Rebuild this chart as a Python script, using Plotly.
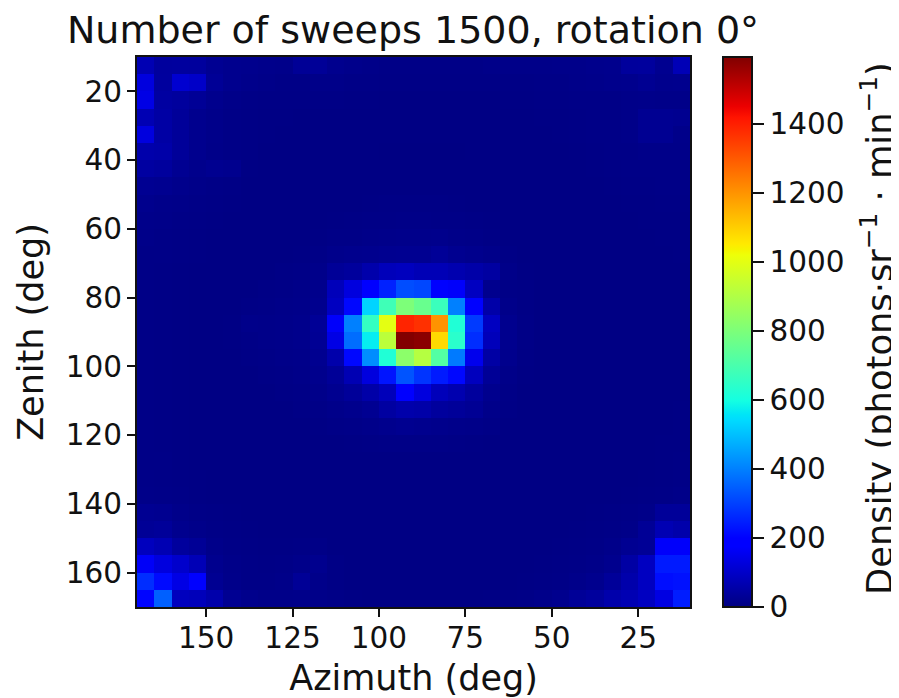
import plotly.graph_objects as go

azimuth = [167.5, 162.5, 157.5, 152.5, 147.5, 142.5, 137.5, 132.5, 127.5, 122.5, 117.5, 112.5, 107.5, 102.5, 97.5, 92.5,
           87.5, 82.5, 77.5, 72.5, 67.5, 62.5, 57.5, 52.5, 47.5, 42.5, 37.5, 32.5, 27.5, 22.5, 17.5, 12.5]
zenith = [12.5, 17.5, 22.5, 27.5, 32.5, 37.5, 42.5, 47.5, 52.5, 57.5, 62.5, 67.5, 72.5, 77.5, 82.5, 87.5,
          92.5, 97.5, 102.5, 107.5, 112.5, 117.5, 122.5, 127.5, 132.5, 137.5, 142.5, 147.5, 152.5, 157.5, 162.5, 167.5]

density = [
    [70, 40, 42, 40, 25, 20, 18, 15, 14, 30, 32, 20, 15, 12, 10, 10, 10, 10, 10, 10, 12, 12, 12, 12, 14, 14, 16, 18, 38, 40, 22, 75],
    [130, 42, 110, 100, 30, 20, 15, 12, 10, 10, 12, 12, 10, 10, 8, 8, 8, 8, 8, 8, 8, 8, 8, 10, 10, 12, 14, 16, 18, 25, 18, 20],
    [140, 45, 40, 30, 18, 12, 10, 8, 8, 8, 8, 8, 7, 7, 6, 6, 6, 6, 6, 6, 6, 7, 7, 8, 8, 10, 10, 10, 12, 14, 12, 12],
    [70, 50, 35, 20, 14, 10, 8, 7, 7, 6, 6, 6, 6, 6, 5, 5, 5, 5, 5, 5, 6, 6, 6, 7, 7, 8, 9, 10, 12, 25, 25, 22],
    [130, 50, 35, 20, 14, 10, 8, 7, 6, 6, 6, 5, 5, 5, 5, 5, 5, 5, 5, 5, 5, 6, 6, 6, 7, 8, 9, 10, 12, 25, 25, 14],
    [60, 55, 35, 20, 13, 10, 8, 6, 6, 5, 5, 5, 5, 5, 4, 4, 4, 4, 4, 5, 5, 5, 5, 6, 6, 7, 8, 9, 10, 12, 13, 12],
    [45, 40, 25, 16, 22, 20, 7, 6, 5, 5, 5, 5, 5, 5, 5, 5, 5, 5, 5, 5, 5, 5, 5, 5, 6, 6, 7, 8, 9, 10, 10, 10],
    [25, 22, 16, 12, 10, 8, 6, 5, 5, 5, 5, 5, 5, 6, 6, 6, 6, 6, 6, 5, 5, 5, 5, 5, 5, 6, 6, 7, 8, 8, 9, 9],
    [18, 14, 12, 10, 8, 7, 6, 5, 5, 5, 5, 6, 6, 7, 8, 8, 8, 8, 7, 6, 6, 5, 5, 5, 5, 5, 6, 6, 7, 7, 8, 8],
    [14, 12, 10, 8, 7, 6, 5, 5, 5, 5, 6, 7, 8, 9, 10, 11, 11, 10, 9, 8, 7, 6, 5, 5, 5, 5, 5, 6, 6, 7, 7, 7],
    [12, 10, 8, 7, 6, 6, 5, 5, 5, 6, 7, 9, 10, 12, 14, 15, 15, 16, 13, 11, 8, 6, 5, 5, 5, 5, 5, 5, 6, 6, 7, 7],
    [10, 9, 8, 7, 6, 5, 5, 5, 6, 7, 10, 15, 18, 20, 22, 24, 24, 32, 22, 18, 14, 8, 6, 5, 5, 5, 5, 5, 5, 6, 6, 7],
    [10, 8, 7, 6, 6, 5, 5, 6, 8, 10, 14, 32, 38, 60, 80, 85, 75, 75, 65, 55, 45, 12, 7, 5, 5, 5, 5, 5, 5, 6, 6, 6],
    [9, 8, 7, 6, 5, 5, 6, 8, 10, 12, 16, 80, 130, 195, 250, 320, 310, 200, 170, 90, 20, 10, 8, 5, 5, 5, 5, 5, 5, 5, 6, 6],
    [9, 8, 7, 6, 5, 6, 8, 10, 12, 14, 20, 90, 210, 530, 680, 800, 760, 670, 400, 200, 55, 14, 8, 6, 5, 5, 5, 5, 5, 5, 6, 6],
    [9, 8, 7, 6, 6, 7, 14, 12, 14, 16, 30, 170, 400, 660, 1000, 1390, 1370, 1200, 620, 290, 90, 20, 10, 6, 5, 5, 5, 5, 5, 5, 6, 6],
    [9, 8, 7, 6, 6, 7, 10, 12, 14, 16, 28, 140, 370, 570, 920, 1590, 1580, 1080, 640, 270, 80, 20, 10, 6, 5, 5, 5, 5, 5, 5, 6, 6],
    [9, 8, 7, 6, 5, 6, 8, 10, 12, 14, 22, 60, 210, 420, 620, 830, 910, 720, 390, 150, 50, 18, 8, 6, 5, 5, 5, 5, 5, 5, 6, 6],
    [9, 8, 7, 6, 5, 5, 6, 8, 10, 12, 18, 32, 70, 130, 230, 330, 280, 240, 210, 85, 30, 12, 7, 5, 5, 5, 5, 5, 5, 5, 6, 6],
    [9, 8, 7, 6, 5, 5, 5, 6, 8, 10, 14, 22, 35, 55, 80, 195, 130, 80, 65, 40, 20, 10, 6, 5, 5, 5, 5, 5, 5, 5, 6, 6],
    [9, 8, 7, 6, 5, 5, 5, 5, 6, 8, 10, 14, 18, 25, 45, 60, 55, 40, 35, 28, 14, 8, 5, 5, 5, 5, 5, 5, 5, 5, 6, 7],
    [9, 8, 7, 6, 5, 5, 5, 5, 5, 6, 7, 9, 11, 14, 18, 22, 20, 16, 14, 12, 9, 6, 5, 5, 5, 5, 5, 5, 5, 6, 6, 7],
    [10, 8, 7, 6, 5, 5, 5, 5, 5, 5, 6, 6, 7, 8, 9, 10, 10, 9, 8, 7, 6, 5, 5, 5, 5, 5, 5, 5, 5, 6, 7, 7],
    [10, 9, 7, 6, 6, 5, 5, 5, 5, 5, 5, 5, 5, 6, 6, 6, 6, 6, 6, 5, 5, 5, 5, 5, 5, 5, 5, 5, 6, 6, 7, 8],
    [11, 9, 8, 7, 6, 5, 5, 5, 5, 5, 5, 5, 5, 5, 5, 5, 5, 5, 5, 5, 5, 5, 5, 5, 5, 5, 5, 5, 6, 7, 8, 9],
    [13, 11, 9, 7, 6, 6, 5, 5, 5, 5, 5, 5, 5, 5, 5, 5, 5, 5, 5, 5, 5, 5, 5, 5, 5, 6, 6, 6, 7, 8, 10, 12],
    [25, 22, 14, 10, 8, 7, 6, 5, 5, 5, 5, 5, 5, 5, 5, 5, 5, 5, 5, 5, 5, 5, 6, 5, 6, 6, 7, 8, 9, 12, 35, 35],
    [30, 35, 20, 14, 10, 8, 7, 6, 6, 6, 6, 5, 5, 5, 5, 5, 5, 5, 5, 5, 5, 5, 6, 6, 6, 7, 8, 10, 12, 30, 70, 60],
    [85, 70, 40, 30, 14, 10, 8, 7, 7, 8, 10, 6, 5, 5, 5, 5, 5, 5, 5, 5, 5, 6, 6, 6, 7, 8, 10, 14, 25, 30, 170, 170],
    [165, 130, 105, 75, 20, 12, 9, 8, 9, 14, 20, 8, 6, 5, 5, 5, 5, 5, 5, 5, 6, 6, 6, 7, 8, 10, 12, 20, 50, 90, 240, 240],
    [270, 215, 140, 200, 25, 14, 10, 10, 12, 30, 14, 8, 6, 6, 5, 5, 5, 5, 5, 6, 6, 6, 7, 8, 10, 14, 20, 35, 60, 90, 220, 225],
    [205, 350, 85, 80, 60, 25, 16, 12, 12, 14, 12, 9, 7, 6, 6, 5, 5, 6, 6, 6, 7, 8, 10, 14, 20, 32, 40, 60, 70, 90, 135, 245],
]

xticks = [150, 125, 100, 75, 50, 25]
yticks = [20, 40, 60, 80, 100, 120, 140, 160]
cticks = [0, 200, 400, 600, 800, 1000, 1200, 1400]

jet = [
    [0.0, "rgb(0,0,128)"], [0.11, "rgb(0,0,255)"], [0.125, "rgb(0,0,255)"],
    [0.34, "rgb(0,219,255)"], [0.35, "rgb(0,229,247)"], [0.375, "rgb(20,255,226)"],
    [0.64, "rgb(238,255,8)"], [0.65, "rgb(246,244,0)"], [0.66, "rgb(255,234,0)"],
    [0.89, "rgb(255,20,0)"], [0.91, "rgb(236,0,0)"], [1.0, "rgb(128,0,0)"],
]

FONT = "DejaVu Sans"
INK = "#111111"
TICK = 29.5
LABEL = 35

fig = go.Figure(go.Heatmap(
    x=azimuth, y=zenith, z=density, colorscale=jet, zmin=0, zmax=1593, zsmooth=False,
    colorbar=dict(
        thickness=29, thicknessmode="pixels", len=550, lenmode="pixels",
        x=(723 - 137) / 553, xanchor="left", xpad=0, y=0.5, yanchor="middle", ypad=0,
        outlinewidth=2, outlinecolor=INK, tickvals=cticks, ticks="outside", ticklen=11,
        tickwidth=2, tickcolor=INK, tickfont=dict(family=FONT, size=TICK, color=INK),
    ),
))

axis = dict(showgrid=False, zeroline=False, showline=True, linewidth=2, linecolor=INK, mirror=True,
            ticks="outside", ticklen=8, tickwidth=2, tickcolor=INK, automargin=False,
            tickfont=dict(family=FONT, size=TICK, color=INK))

fig.update_layout(
    width=891, height=690, autosize=False,
    margin=dict(l=129, r=209, t=49, b=91),
    paper_bgcolor="white", plot_bgcolor="white",
    title=dict(text="Number of sweeps 1500, rotation 0°", x=405 / 891, xanchor="center",
               y=1 - 22 / 690, yanchor="middle", font=dict(family=FONT, size=38, color=INK)),
    xaxis=dict(axis, range=[170, 10], tickvals=xticks, ticklabelstandoff=-4,
               title=dict(text="Azimuth (deg)", font=dict(family=FONT, size=LABEL, color=INK), standoff=13)),
    yaxis=dict(axis, range=[170, 10], tickvals=yticks, ticklabelstandoff=-1,
               title=dict(text="Zenith (deg)", font=dict(family=FONT, size=LABEL, color=INK), standoff=12)),
    annotations=[dict(text="Density (photons·sr<sup>−1</sup> · min<sup>−1</sup>)", textangle=-90,
                      xref="paper", yref="paper", x=(877 - 137) / 553, y=(606 - 328) / 550,
                      xanchor="center", yanchor="middle", showarrow=False,
                      font=dict(family=FONT, size=35.3, color=INK))],
)

fig.write_html("out.html")
